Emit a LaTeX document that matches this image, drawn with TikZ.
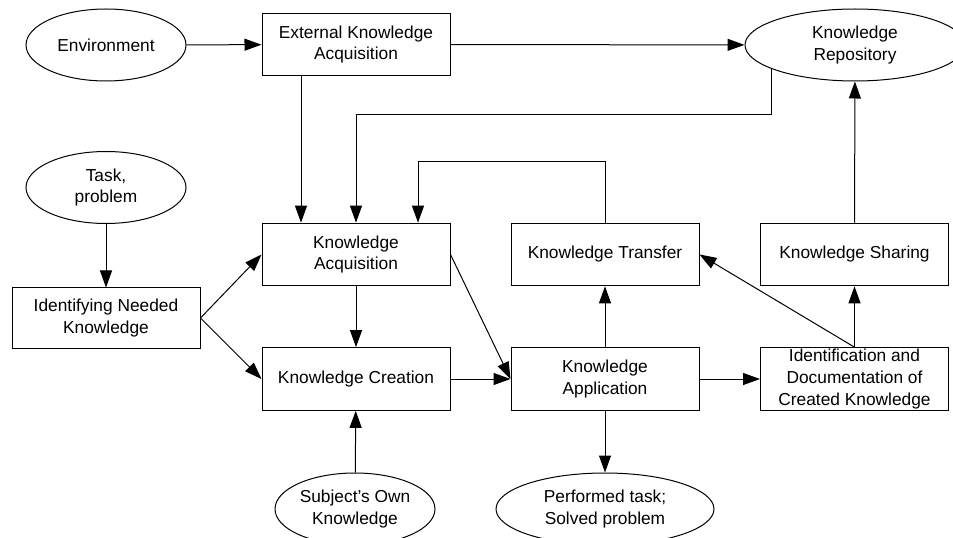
\documentclass[tikz,border=0pt]{standalone}
\usepackage{fontspec}
\setmainfont{Liberation Sans}
\usetikzlibrary{shapes.geometric,arrows.meta,calc}
\begin{document}
\begin{tikzpicture}[x=0.75pt,y=-0.75pt,
  lbl/.style={font=\fontsize{13}{16.3}\selectfont, align=center},
  box/.style={lbl, draw, line width=0.75pt, minimum width=141pt, minimum height=47pt, inner sep=0pt},
  oval/.style={lbl, draw, ellipse, line width=0.75pt, minimum height=54pt, inner sep=0pt},
  arr/.style={line width=0.75pt, -{Triangle[length=12.75pt,width=9pt]}}]
\useasboundingbox (0,0) rectangle (953,538);

% ellipses
\node[oval, minimum width=120pt] (env) at (106,45) {Environment};
\node[oval, minimum width=120pt] (task) at (106,187.5) {Task,\\problem};
\node[oval, minimum width=165pt] (kr) at (855,45) {Knowledge\\Repository};
\node[oval, minimum width=120pt] (own) at (355,509) {Subject’s Own\\Knowledge};
\node[oval, minimum width=163.5pt] (perf) at (605,509) {Performed task;\\Solved problem};

% boxes
\node[box] (eka) at (356,44.5) {External Knowledge\\Acquisition};
\node[box] (ka) at (356,254.5) {Knowledge\\Acquisition};
\node[box, minimum height=45pt] (ink) at (106,318) {Identifying Needed\\Knowledge};
\node[box] (kc) at (356,379) {Knowledge Creation};
\node[box] (kapp) at (605,379) {Knowledge\\Application};
\node[box] (idc) at (854.5,379) {Identification and\\Documentation of\\Created Knowledge};
\node[box] (kt) at (605,254.5) {Knowledge Transfer};
\node[box] (ks) at (854.5,254.5) {Knowledge Sharing};

% connectors
\draw[arr] (env) -- (eka);
\draw[arr] (eka) -- (kr);
\draw[arr] ([xshift=-41.25pt]eka.south) -- ([xshift=-41.25pt]ka.north);
\draw[arr] (kr.196.3) |- ($(ka.north)+(0,-108)$) -- (ka.north);
\draw[arr] (kt.north) |- ($(ka.north)+(62,-61)$) -- ($(ka.north)+(62,0)$);
\draw[arr] (task) -- (ink);
\draw[arr] (ink.east) -- (ka.west);
\draw[arr] (ink.east) -- (kc.west);
\draw[arr] (ka) -- (kc);
\draw[arr] (own) -- (kc);
\draw[arr] (ka.east) -- (kapp.west);
\draw[arr] (kc) -- (kapp);
\draw[arr] (kapp) -- (perf);
\draw[arr] (kapp) -- (kt);
\draw[arr] (kapp) -- (idc);
\draw[arr] (idc) -- (ks);
\draw[arr] (idc.north) -- (kt.east);
\draw[arr] (ks) -- (kr);
\end{tikzpicture}
\end{document}
